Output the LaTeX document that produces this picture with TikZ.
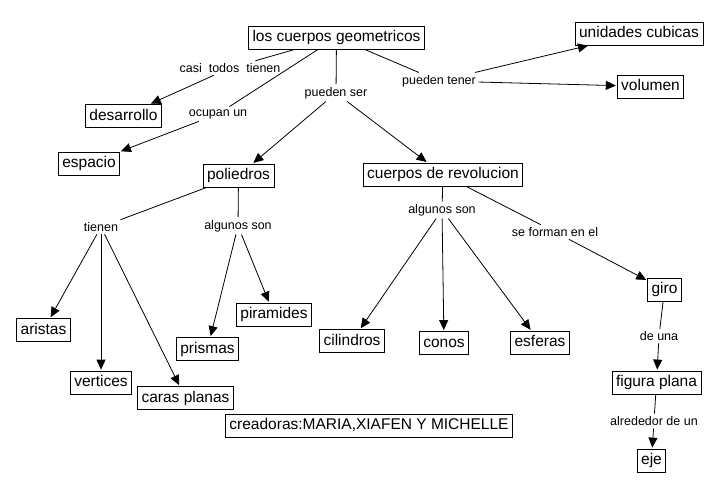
\documentclass[tikz,border=0pt]{standalone}
\usepackage{fontspec}
\setmainfont{Liberation Sans}
\usetikzlibrary{arrows.meta}
\begin{document}
\begin{tikzpicture}[x=1pt,y=-1pt,
 box/.style={draw, line width=0.8pt, font=\fontsize{15.5}{17}\selectfont, inner xsep=4pt, inner ysep=0pt, minimum height=23pt, text height=11.5pt, text depth=3pt},
 lbl/.style={font=\fontsize{12.5}{14}\selectfont, inner sep=2.5pt},
 conn/.style={line width=0.8pt},
 arr/.style={line width=0.8pt, -{Triangle[length=10pt,width=9pt]}, shorten >=1pt}]
\useasboundingbox (0,0) rectangle (722,493);
% concepts
\node[box] (main) at (336.5,37.5) {los cuerpos geometricos};
\node[box] (uni) at (639,33.5) {unidades cubicas};
\node[box] (vol) at (650.5,86.5) {volumen};
\node[box] (des) at (123.5,116) {desarrollo};
\node[box] (esp) at (89,163.5) {espacio};
\node[box] (pol) at (238.5,175.5) {poliedros};
\node[box] (rev) at (443,174.5) {cuerpos de revolucion};
\node[box] (ari) at (43.5,330) {aristas};
\node[box] (ver) at (101,382.5) {vertices};
\node[box] (car) at (185.5,398) {caras planas};
\node[box] (pri) at (207.5,349) {prismas};
\node[box] (pir) at (274,314.5) {piramides};
\node[box] (cil) at (352,341) {cilindros};
\node[box] (con) at (444,343) {conos};
\node[box] (esf) at (540,342.5) {esferas};
\node[box] (gir) at (664.5,289.5) {giro};
\node[box] (fig) at (656.5,382.5) {figura plana};
\node[box] (eje) at (651.5,460.5) {eje};
\node[box] (cre) at (369,425.5) {creadoras:MARIA,XIAFEN Y MICHELLE};
% linking phrases
\node[lbl] (l1) at (230,68) {casi~~todos~~tienen};
\node[lbl] (l2) at (218,114) {ocupan un};
\node[lbl] (l3) at (336,93) {pueden ser};
\node[lbl] (l4) at (439,81) {pueden tener};
\node[lbl] (l5) at (101,227) {tienen};
\node[lbl] (l6) at (238,226) {algunos son};
\node[lbl] (l7) at (442,210) {algunos son};
\node[lbl] (l8) at (555,232) {se forman en el};
\node[lbl] (l9) at (659,336) {de una};
\node[lbl] (l10) at (654,421) {alrededor de un};
% connectors
\draw[conn] (main) -- (l1); \draw[arr] (l1) -- (des);
\draw[conn] (main) -- (l2); \draw[arr] (l2) -- (esp);
\draw[conn] (main) -- (l3); \draw[arr] (l3) -- (pol); \draw[arr] (l3) -- (rev);
\draw[conn] (main) -- (l4); \draw[arr] (l4) -- (uni); \draw[arr] (l4) -- (vol);
\draw[conn] (pol) -- (l5); \draw[arr] (l5) -- (ari); \draw[arr] (l5) -- (ver); \draw[arr] (l5) -- (car);
\draw[conn] (pol) -- (l6); \draw[arr] (l6) -- (pri); \draw[arr] (l6) -- (pir);
\draw[conn] (rev) -- (l7); \draw[arr] (l7) -- (cil); \draw[arr] (l7) -- (con); \draw[arr] (l7) -- (esf);
\draw[conn] (rev) -- (l8); \draw[arr] (l8) -- (gir);
\draw[conn] (gir) -- (l9); \draw[arr] (l9) -- (fig);
\draw[conn] (fig) -- (l10); \draw[arr] (l10) -- (eje);
\end{tikzpicture}
\end{document}
